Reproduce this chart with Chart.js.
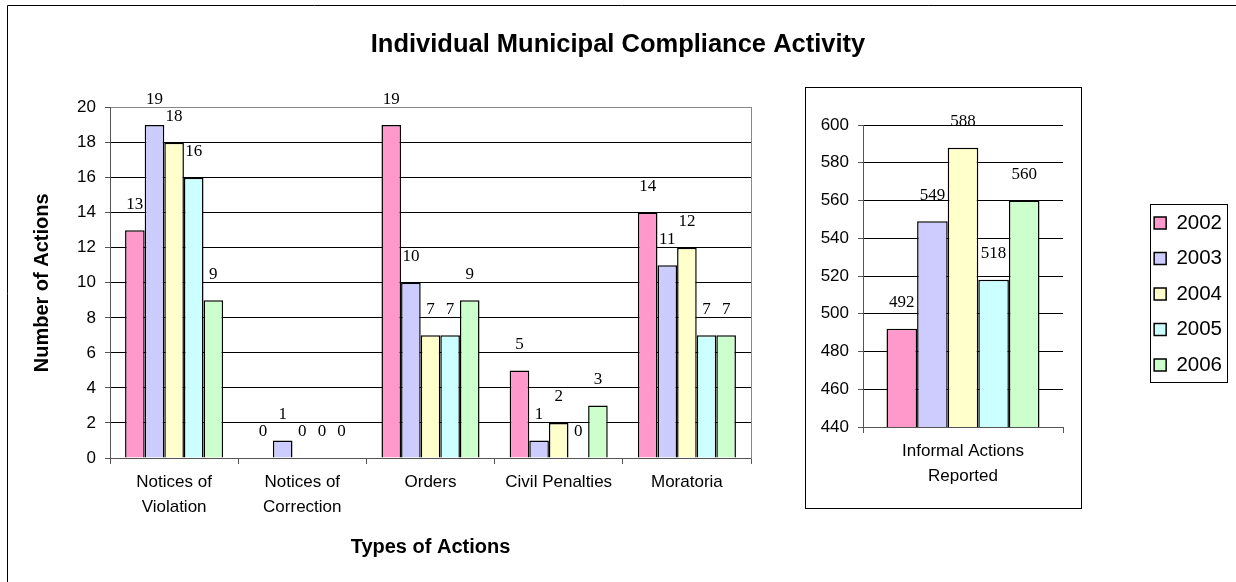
<!DOCTYPE html>
<html>
<head>
<meta charset="utf-8">
<script src="https://cdn.jsdelivr.net/npm/chart.js@4.4.0/dist/chart.umd.min.js"></script>
<style>
  html, body { margin: 0; padding: 0; background: #fff; overflow: hidden; }
  #wrap { position: relative; width: 1236px; height: 582px; }
  #main { position: absolute; left: 0; top: 0; }
  #inset { position: absolute; left: 805px; top: 87px; }
</style>
</head>
<body>
<div id="wrap">
  <canvas id="main" width="1236" height="582"></canvas>
  <canvas id="inset" width="431" height="422"></canvas>
</div>
<script>
// data
const years = ['2002', '2003', '2004', '2005', '2006'];
const categories = [['Notices of', 'Violation'], ['Notices of', 'Correction'], 'Orders', 'Civil Penalties', 'Moratoria'];
const values2002 = [13, 0, 19, 5, 14];
const values2003 = [19, 1, 10, 1, 11];
const values2004 = [18, 0, 7, 2, 12];
const values2005 = [16, 0, 7, 0, 7];
const values2006 = [9, 0, 9, 3, 7];
const informalCategory = [['Informal Actions', 'Reported']];
const informalValues = [492, 549, 588, 518, 560];
const mainTicks = { min: 0, max: 20, step: 2 };
const insetTicks = { min: 440, max: 600, step: 20 };

const colors = ['#FF99CC', '#CCCCFF', '#FFFFCC', '#CCFFFF', '#CCFFCC'];
const SANS = '"Liberation Sans", Arial, sans-serif';

Chart.defaults.font.family = SANS;
Chart.defaults.color = '#000';

// numbers above the bars
const valueLabels = {
    id: 'valueLabels',
    afterDatasetsDraw(chart) {
        const ctx = chart.ctx;
        ctx.save();
        ctx.font = '17px "Liberation Serif", "Times New Roman", serif';
        ctx.fillStyle = '#000';
        ctx.textAlign = 'center';
        ctx.textBaseline = 'middle';
        chart.data.datasets.forEach((ds, i) => {
            chart.getDatasetMeta(i).data.forEach((bar, j) => {
                ctx.fillText(String(ds.data[j]), bar.x, bar.y - 26);
            });
        });
        ctx.restore();
    }
};

const outerFrame = {
    id: 'outerFrame',
    beforeDraw(chart) {
        const ctx = chart.ctx;
        ctx.save();
        ctx.strokeStyle = '#000';
        ctx.lineWidth = 1;
        ctx.beginPath();
        ctx.moveTo(7.5, chart.height);
        ctx.lineTo(7.5, 5.5);
        ctx.lineTo(chart.width, 5.5);
        ctx.stroke();
        ctx.restore();
    }
};

const insetFrame = {
    id: 'insetFrame',
    beforeDraw(chart) {
        const ctx = chart.ctx;
        ctx.save();
        ctx.strokeStyle = '#000';
        ctx.lineWidth = 1;
        ctx.strokeRect(0.5, 0.5, 276, 421);
        ctx.restore();
    },
    afterDraw(chart) {
        const hit = chart.legend.legendHitBoxes;
        if (!hit || !hit.length) return;
        const ctx = chart.ctx;
        const left = Math.round(hit[0].left) - 3.5;
        const top = Math.round(hit[0].top) - 8.5;
        const bottom = Math.round(hit[hit.length - 1].top) + 27.5;
        ctx.save();
        ctx.strokeStyle = '#000';
        ctx.lineWidth = 1;
        ctx.strokeRect(left, top, 77, bottom - top);
        ctx.restore();
    }
};

const mainSeries = [values2002, values2003, values2004, values2005, values2006];

new Chart(document.getElementById('main'), {
    type: 'bar',
    data: {
        labels: categories,
        datasets: years.map((y, i) => ({
            label: y,
            data: mainSeries[i],
            backgroundColor: colors[i],
            borderColor: '#000',
            borderWidth: 1.5,
            categoryPercentage: 0.765,
            barPercentage: 1
        }))
    },
    options: {
        responsive: false,
        animation: false,
        layout: { padding: 0 },
        plugins: {
            legend: { display: false },
            tooltip: { enabled: false },
            title: {
                display: true,
                text: 'Individual Municipal Compliance Activity',
                color: '#000',
                font: { size: 25.5, weight: 'bold', lineHeight: 1.2 },
                padding: { top: 30, bottom: 47 }
            }
        },
        scales: {
            x: {
                grid: { drawOnChartArea: false, offset: true, tickLength: 6, tickColor: '#555' },
                border: { color: '#555' },
                ticks: { color: '#000', font: { size: 17, lineHeight: 1.45 }, padding: 6, maxRotation: 0, autoSkip: false },
                title: {
                    display: true,
                    text: 'Types of Actions',
                    color: '#000',
                    font: { size: 20, weight: 'bold', lineHeight: 1.2 },
                    padding: { top: 14, bottom: 23 }
                },
                afterFit(scale) { scale.height = 124; }
            },
            y: {
                min: mainTicks.min,
                max: mainTicks.max,
                ticks: { stepSize: mainTicks.step, color: '#000', font: { size: 17 }, padding: 9 },
                grid: {
                    color: c => (c.tick && c.tick.value === mainTicks.max) ? '#888' : '#000',
                    tickLength: 5,
                    tickColor: '#555'
                },
                border: { color: '#555' },
                title: {
                    display: true,
                    text: 'Number of Actions',
                    color: '#000',
                    font: { size: 20, weight: 'bold', lineHeight: 1.2 },
                    padding: { top: 30, bottom: 0 }
                },
                afterFit(scale) { scale.width = 110; }
            },
            yR: {
                position: 'right',
                grid: { display: false },
                ticks: { display: false },
                border: { display: true, color: '#888' },
                afterFit(scale) { scale.width = 485; }
            }
        }
    },
    plugins: [outerFrame, valueLabels]
});

new Chart(document.getElementById('inset'), {
    type: 'bar',
    data: {
        labels: informalCategory,
        datasets: years.map((y, i) => ({
            label: y,
            data: [informalValues[i]],
            backgroundColor: colors[i],
            borderColor: '#000',
            borderWidth: 1.5,
            categoryPercentage: 0.765,
            barPercentage: 1
        }))
    },
    options: {
        responsive: false,
        animation: false,
        layout: { padding: { top: 0, left: 0, right: 4, bottom: 8 } },
        plugins: {
            tooltip: { enabled: false },
            legend: {
                position: 'right',
                maxWidth: 200,
                labels: { boxWidth: 12, boxHeight: 12, padding: 15, color: '#000', font: { size: 20.5 } }
            }
        },
        scales: {
            x: {
                grid: { drawOnChartArea: false, offset: true, tickLength: 6, tickColor: '#555' },
                border: { color: '#555' },
                ticks: { color: '#000', font: { size: 17, lineHeight: 1.45 }, padding: 6, maxRotation: 0 },
                afterFit(scale) { scale.height = 74; }
            },
            xTop: {
                type: 'category',
                position: 'top',
                labels: informalCategory,
                grid: { display: false },
                ticks: { display: false },
                border: { display: false },
                afterFit(scale) { scale.height = 38; }
            },
            y: {
                min: insetTicks.min,
                max: insetTicks.max,
                ticks: { stepSize: insetTicks.step, color: '#000', font: { size: 17 }, padding: 9 },
                grid: { color: '#000', tickLength: 5, tickColor: '#555' },
                border: { color: '#555' },
                afterFit(scale) { scale.width = 58; }
            },
            yR: {
                position: 'right',
                grid: { display: false },
                ticks: { display: false },
                border: { display: false },
                afterFit(scale) {
                    const lw = scale.chart.legend ? scale.chart.legend.width : 82;
                    scale.width = Math.max(0, 431 - 4 - lw - 258);
                }
            }
        }
    },
    plugins: [insetFrame, valueLabels]
});
</script>
</body>
</html>
